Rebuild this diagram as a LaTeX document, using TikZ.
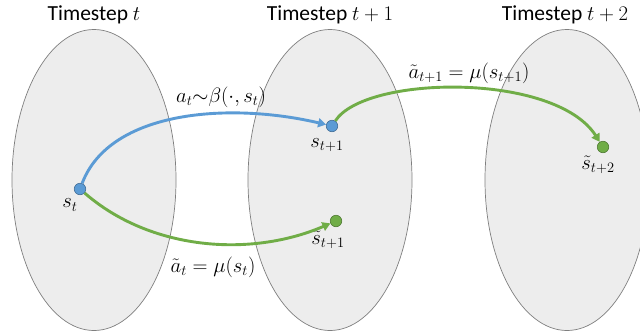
\documentclass[tikz,border=0pt]{standalone}
\usepackage{amsmath}
\usepackage{fontspec}
\setmainfont{Carlito}
\usepackage{tikz}
\usetikzlibrary{shapes.geometric,arrows.meta}

\definecolor{stepfill}{HTML}{EDEDED}
\definecolor{stepline}{HTML}{7F7F7F}
\definecolor{myblue}{HTML}{5B9BD5}
\definecolor{mygreen}{HTML}{70AD47}

\begin{document}
\begin{tikzpicture}[x=1pt, y=-1pt,
			      every node/.style={font=\fontsize{21.5}{24}\selectfont},
			      stepset/.style={ellipse, draw=stepline, fill=stepfill, line width=0.7pt,
				      minimum width=164pt, minimum height=301pt, inner sep=0pt},
			      bdot/.style={circle, fill=myblue, draw=myblue!70!black, line width=0.6pt,
				      minimum size=11.5pt, inner sep=0pt},
			      gdot/.style={circle, fill=mygreen, draw=mygreen!70!black, line width=0.6pt,
				      minimum size=11.5pt, inner sep=0pt},
			      barrow/.style={draw=myblue, line width=2.9pt, -{Triangle[length=8pt, width=9pt]}},
			      garrow/.style={draw=mygreen, line width=2.9pt, -{Triangle[length=8pt, width=9pt]}}]
		      \clip (0,0) rectangle (640,335);
		      % the three timesteps
		      \node[stepset] (e0) at (94,180) {};
		      \node[stepset] (e1) at (330,180) {};
		      \node[stepset] (e2) at (567,180) {};
		      \node (t0) at (94,15) {Timestep $t$};
		      \node (t1) at (330,15) {Timestep $t+1$};
		      \node (t2) at (565,15) {Timestep $t+2$};
		      % states
		      \node[bdot] (s0) at (80,189) {};
		      \node[bdot] (s1) at (332,126) {};
		      \node[gdot] (g1) at (336,221) {};
		      \node[gdot] (g2) at (603,147) {};
		      \node (ls0) at (70,205) {$s_t$};
		      \node (ls1) at (327,145) {$s_{t+1}$};
		      \node (lg1) at (328,240) {$\tilde{s}_{t+1}$};
		      \node (lg2) at (598,165) {$\tilde{s}_{t+2}$};
		      % transitions
		      \draw[barrow] (s0) .. controls (110,110) and (230,102) .. (s1);
		      \draw[garrow] (s0) .. controls (150,250) and (250,258) .. (g1);
		      \draw[garrow] (s1) .. controls (365,75) and (555,72) .. (g2);
		      \node (a0) at (221,97) {$a_t{\sim}\beta(\cdot,s_t)$};
		      \node (a1) at (469,73) {$\tilde{a}_{t+1}=\mu(s_{t+1})$};
		      \node (a2) at (213,267) {$\tilde{a}_t=\mu(s_t)$};
	      \end{tikzpicture}
\end{document}
